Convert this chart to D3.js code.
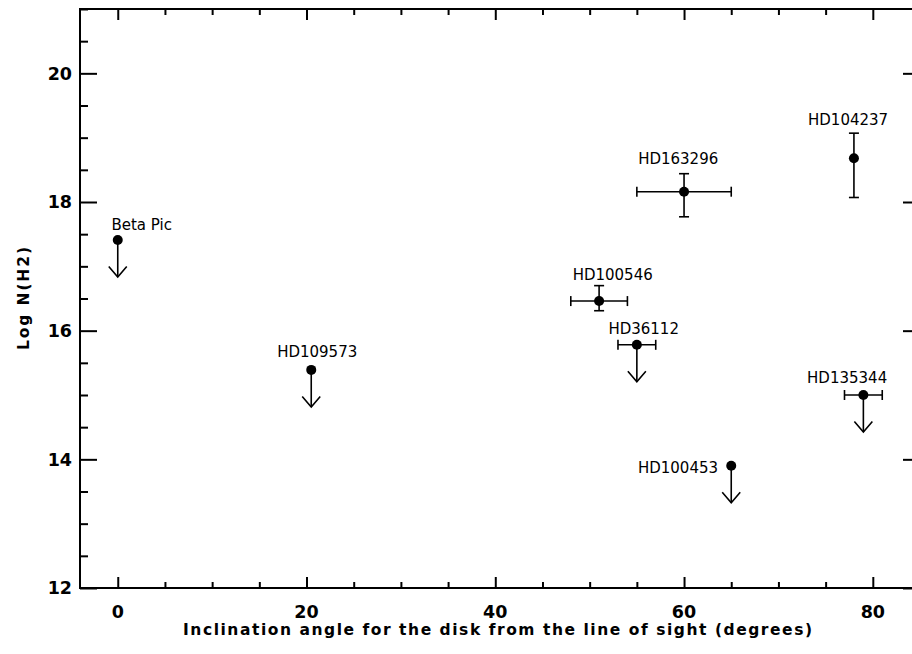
<!DOCTYPE html>
<html>
<head>
<meta charset="utf-8">
<script src="https://cdn.jsdelivr.net/npm/d3@7"></script>
<style>
  html, body { margin: 0; padding: 0; background: #fff; }
  svg { display: block; }
</style>
</head>
<body>
<svg id="chart" width="912" height="654"></svg>
<script>
// ---------- data ----------
const names      = ["Beta Pic", "HD109573", "HD100546", "HD36112", "HD163296", "HD100453", "HD104237", "HD135344"];
const inclination = [0, 20.5, 51, 55, 60, 65, 78, 79];
const logNH2     = [17.41, 15.39, 16.46, 15.78, 18.16, 13.90, 18.68, 15.00];
const inclErr    = [0, 0, 3, 2, 5, 0, 0, 2];
const logNLow    = [null, null, 16.31, null, 17.77, null, 18.07, null];
const logNHigh   = [null, null, 16.70, null, 18.44, null, 19.07, null];
const upperLimit = [true, true, false, true, false, true, false, true];
// label anchor points (data units) and text anchor
const labelX     = [2.54, 21.13, 52.44, 55.72, 59.38, 63.6, 77.38, 77.28];
const labelY     = [17.565, 15.59, 16.79, 15.95, 18.59, 13.79, 19.20, 15.19];
const labelAnchor = ["middle", "middle", "middle", "middle", "middle", "end", "middle", "middle"];

const xDomain = [-4, 85];
const yDomain = [12, 21];
const xMajorTicks = [0, 20, 40, 60, 80];
const yMajorTicks = [12, 14, 16, 18, 20];
const xMinorStep = 5;
const yMinorStep = 0.5;
const xTitle = "Inclination angle for the disk from the line of sight (degrees)";
const yTitle = "Log N(H2)";

// ---------- layout ----------
const L = 80, R = 920, T = 9, B = 588;
const svg = d3.select("#chart");
const x = d3.scaleLinear().domain(xDomain).range([L, R]);
const y = d3.scaleLinear().domain(yDomain).range([B, T]);

const xMinor = d3.range(0, 85.001, xMinorStep).filter(v => !xMajorTicks.includes(v));
const yMinor = d3.range(12, 21.001, yMinorStep).filter(v => !yMajorTicks.includes(v));

const ink = "#000";
const axisW = 2;

const xMajLen = 11, xMinLen = 6, yMajLen = 17, yMinLen = 8;

function styleAxis(g) {
  g.select(".domain").remove();
  g.selectAll("line").attr("stroke", ink).attr("stroke-width", axisW);
}

// bottom
svg.append("g").attr("transform", `translate(0,${B})`)
  .call(d3.axisTop(x).tickValues(xMajorTicks).tickSize(xMajLen).tickFormat(""))
  .call(styleAxis);
svg.append("g").attr("transform", `translate(0,${B})`)
  .call(d3.axisTop(x).tickValues(xMinor).tickSize(xMinLen).tickFormat(""))
  .call(styleAxis);
// top
svg.append("g").attr("transform", `translate(0,${T})`)
  .call(d3.axisBottom(x).tickValues(xMajorTicks).tickSize(xMajLen).tickFormat(""))
  .call(styleAxis);
svg.append("g").attr("transform", `translate(0,${T})`)
  .call(d3.axisBottom(x).tickValues(xMinor).tickSize(xMinLen).tickFormat(""))
  .call(styleAxis);
// left
svg.append("g").attr("transform", `translate(${L},0)`)
  .call(d3.axisRight(y).tickValues(yMajorTicks).tickSize(yMajLen).tickFormat(""))
  .call(styleAxis);
svg.append("g").attr("transform", `translate(${L},0)`)
  .call(d3.axisRight(y).tickValues(yMinor).tickSize(yMinLen).tickFormat(""))
  .call(styleAxis);
// right
svg.append("g").attr("transform", `translate(${R},0)`)
  .call(d3.axisLeft(y).tickValues(yMajorTicks).tickSize(yMajLen).tickFormat(""))
  .call(styleAxis);
svg.append("g").attr("transform", `translate(${R},0)`)
  .call(d3.axisLeft(y).tickValues(yMinor).tickSize(yMinLen).tickFormat(""))
  .call(styleAxis);

// frame
svg.append("rect").attr("x", L).attr("y", T).attr("width", R - L).attr("height", B - T)
  .attr("fill", "none").attr("stroke", ink).attr("stroke-width", axisW);

// tick labels
const tickFont = "'DejaVu Sans', sans-serif";
svg.append("g").selectAll("text").data(xMajorTicks).join("text")
  .attr("x", d => x(d)).attr("y", 618)
  .attr("text-anchor", "middle")
  .attr("font-family", tickFont).attr("font-weight", "bold").attr("font-size", 17.5)
  .text(d => d);
svg.append("g").selectAll("text").data(yMajorTicks).join("text")
  .attr("x", 72).attr("y", d => y(d)).attr("dy", "0.36em")
  .attr("text-anchor", "end")
  .attr("font-family", tickFont).attr("font-weight", "bold").attr("font-size", 17.5)
  .text(d => d);

// axis titles
svg.append("text")
  .attr("x", 497.5).attr("y", 635)
  .attr("text-anchor", "middle")
  .attr("font-family", tickFont).attr("font-weight", "bold").attr("font-size", 15.5)
  .attr("textLength", 629).attr("lengthAdjust", "spacing")
  .text(xTitle);
svg.append("text")
  .attr("transform", `translate(29,298.5) rotate(-90)`)
  .attr("text-anchor", "middle")
  .attr("font-family", tickFont).attr("font-weight", "bold").attr("font-size", 15.5)
  .attr("textLength", 103).attr("lengthAdjust", "spacing")
  .text(yTitle);

// ---------- data marks ----------
const pts = names.map((n, i) => ({
  name: n, x: inclination[i], y: logNH2[i], xe: inclErr[i],
  lo: logNLow[i], hi: logNHigh[i], ul: upperLimit[i],
  lx: labelX[i], ly: labelY[i], la: labelAnchor[i]
}));

const g = svg.append("g");
const capH = 5, errW = 1.6;

// x error bars
pts.filter(d => d.xe > 0).forEach(d => {
  g.append("line").attr("x1", x(d.x - d.xe)).attr("x2", x(d.x + d.xe))
    .attr("y1", y(d.y)).attr("y2", y(d.y)).attr("stroke", ink).attr("stroke-width", errW);
  [d.x - d.xe, d.x + d.xe].forEach(v => {
    g.append("line").attr("x1", x(v)).attr("x2", x(v))
      .attr("y1", y(d.y) - capH).attr("y2", y(d.y) + capH)
      .attr("stroke", ink).attr("stroke-width", errW);
  });
});
// y error bars
pts.filter(d => d.lo != null).forEach(d => {
  g.append("line").attr("x1", x(d.x)).attr("x2", x(d.x))
    .attr("y1", y(d.lo)).attr("y2", y(d.hi)).attr("stroke", ink).attr("stroke-width", errW);
  [d.lo, d.hi].forEach(v => {
    g.append("line").attr("x1", x(d.x) - capH).attr("x2", x(d.x) + capH)
      .attr("y1", y(v)).attr("y2", y(v))
      .attr("stroke", ink).attr("stroke-width", errW);
  });
});
// upper-limit arrows
const arrowLen = 37, headW = 9, headH = 10.5;
pts.filter(d => d.ul).forEach(d => {
  const cx = x(d.x), cy = y(d.y), ty = cy + arrowLen;
  g.append("line").attr("x1", cx).attr("x2", cx).attr("y1", cy).attr("y2", ty)
    .attr("stroke", ink).attr("stroke-width", errW);
  g.append("path")
    .attr("d", `M${cx - headW},${ty - headH} L${cx},${ty} L${cx + headW},${ty - headH}`)
    .attr("fill", "none").attr("stroke", ink).attr("stroke-width", errW);
});
// dots
g.selectAll("circle").data(pts).join("circle")
  .attr("cx", d => x(d.x)).attr("cy", d => y(d.y)).attr("r", 5)
  .attr("fill", ink);
// labels
g.selectAll("text.lbl").data(pts).join("text").attr("class", "lbl")
  .attr("x", d => x(d.lx))
  .attr("y", d => y(d.ly))
  .attr("text-anchor", d => d.la)
  .attr("font-family", "'DejaVu Sans', sans-serif").attr("font-size", 15)
  .text(d => d.name);
</script>
</body>
</html>
